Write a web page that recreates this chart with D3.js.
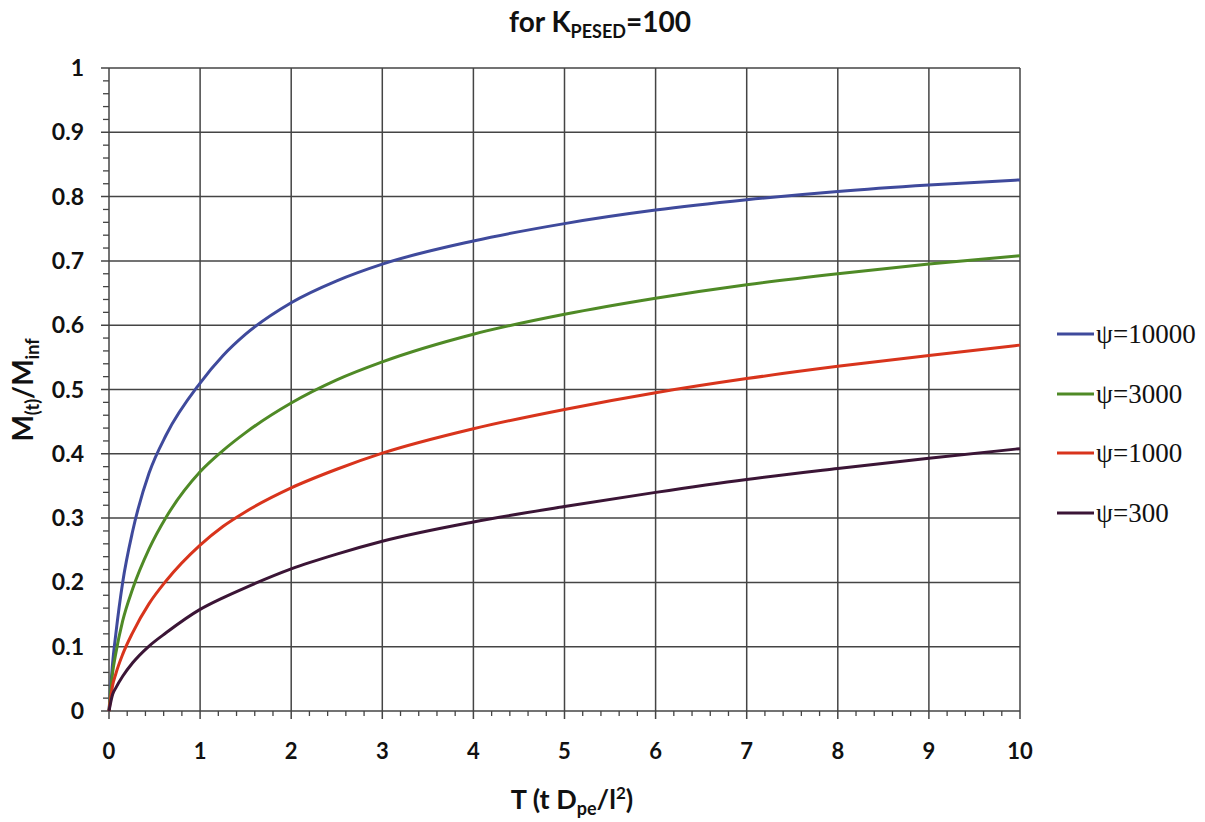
<!DOCTYPE html>
<html>
<head>
<meta charset="utf-8">
<script src="https://cdn.jsdelivr.net/npm/d3@7"></script>
<style>
  html, body { margin: 0; padding: 0; background: #ffffff; }
  svg { display: block; }
  .lab { font-family: Lato, "Open Sans", sans-serif; font-weight: 700; fill: #111; }
  .leg { font-family: "Liberation Serif", "DejaVu Serif", serif; fill: #111; }
</style>
</head>
<body>
<svg id="chart" width="1205" height="822"></svg>
<script>
// Dimensionless time T = t·Dpe/l²
const tValues = [0, 0.04, 0.075, 0.15, 0.26, 0.44, 0.63, 1, 1.25, 1.5, 2, 2.5, 3, 4, 5, 6, 7, 8, 9, 10];

// Fractional uptake M(t)/M(inf) for each psi
const psi10000 = [0, 0.075, 0.12, 0.2, 0.28, 0.37, 0.43, 0.51, 0.5525, 0.586, 0.635, 0.669, 0.695, 0.731, 0.758, 0.779, 0.795, 0.808, 0.818, 0.826];
const psi3000  = [0, 0.06, 0.09, 0.14, 0.19, 0.252, 0.302, 0.372, 0.405, 0.433, 0.479, 0.515, 0.543, 0.586, 0.617, 0.642, 0.663, 0.68, 0.695, 0.708];
const psi1000  = [0, 0.04, 0.058, 0.088, 0.122, 0.167, 0.203, 0.258, 0.287, 0.31, 0.347, 0.376, 0.401, 0.439, 0.469, 0.495, 0.517, 0.536, 0.553, 0.569];
const psi300   = [0, 0.026, 0.036, 0.054, 0.075, 0.101, 0.122, 0.158, 0.176, 0.192, 0.221, 0.244, 0.264, 0.294, 0.318, 0.34, 0.36, 0.377, 0.393, 0.408];

const seriesNames = ["ψ=10000", "ψ=3000", "ψ=1000", "ψ=300"];
const seriesValues = [psi10000, psi3000, psi1000, psi300];
const seriesColors = ["#3f4a9c", "#4f8a26", "#d8341c", "#3b1536"];

const xTicks = [0, 1, 2, 3, 4, 5, 6, 7, 8, 9, 10];
const yTicks = [0, 0.1, 0.2, 0.3, 0.4, 0.5, 0.6, 0.7, 0.8, 0.9, 1];
const yTickLabels = ["0", "0.1", "0.2", "0.3", "0.4", "0.5", "0.6", "0.7", "0.8", "0.9", "1"];

const svg = d3.select("#chart");
const plotLeft = 109, plotRight = 1020, plotTop = 68, plotBottom = 711;

const x = d3.scaleLinear().domain([0, 10]).range([plotLeft, plotRight]);
const y = d3.scaleLinear().domain([0, 1]).range([plotBottom, plotTop]);

const gridColor = "#444";

// grid lines
const grid = svg.append("g");
grid.selectAll("line.v").data(xTicks).join("line")
  .attr("x1", d => x(d)).attr("x2", d => x(d))
  .attr("y1", plotTop).attr("y2", plotBottom + 8)
  .attr("stroke", gridColor).attr("stroke-width", 1.5);
grid.selectAll("line.h").data(yTicks).join("line")
  .attr("x1", plotLeft - 8).attr("x2", plotRight)
  .attr("y1", d => y(d)).attr("y2", d => y(d))
  .attr("stroke", gridColor).attr("stroke-width", 1.5);

// minor ticks
const xMinor = d3.range(0, 10.001, 0.2).filter(v => Math.abs(v - Math.round(v)) > 1e-6);
const yMinor = d3.range(0, 1.0001, 0.02).filter(v => Math.abs(v * 10 - Math.round(v * 10)) > 1e-6);
grid.selectAll("line.xm").data(xMinor).join("line")
  .attr("x1", d => x(d)).attr("x2", d => x(d))
  .attr("y1", plotBottom).attr("y2", plotBottom + 5)
  .attr("stroke", gridColor).attr("stroke-width", 1.3);
grid.selectAll("line.ym").data(yMinor).join("line")
  .attr("x1", plotLeft - 6).attr("x2", plotLeft)
  .attr("y1", d => y(d)).attr("y2", d => y(d))
  .attr("stroke", gridColor).attr("stroke-width", 1.3);

// axis labels
svg.append("g").selectAll("text").data(xTicks).join("text")
  .attr("class", "lab")
  .attr("x", d => x(d)).attr("y", 759)
  .attr("text-anchor", "middle").attr("font-size", 22)
  .text(d => d);
svg.append("g").selectAll("text").data(yTicks).join("text")
  .attr("class", "lab")
  .attr("x", 84).attr("y", d => y(d) + 8)
  .attr("text-anchor", "end").attr("font-size", 23)
  .text((d, i) => yTickLabels[i]);

// curves
const line = d3.line().x((d, i) => x(tValues[i])).y(d => y(d)).curve(d3.curveMonotoneX);
svg.append("g").selectAll("path").data(seriesValues).join("path")
  .attr("d", d => line(d))
  .attr("fill", "none")
  .attr("stroke", (d, i) => seriesColors[i])
  .attr("stroke-width", 3)
  .attr("stroke-linejoin", "round");

// legend
const legY = [334, 394, 453, 513];
const leg = svg.append("g");
leg.selectAll("line").data(seriesNames).join("line")
  .attr("x1", 1057).attr("x2", 1094)
  .attr("y1", (d, i) => legY[i]).attr("y2", (d, i) => legY[i])
  .attr("stroke", (d, i) => seriesColors[i]).attr("stroke-width", 3);
leg.selectAll("text").data(seriesNames).join("text")
  .attr("class", "leg")
  .attr("x", 1096).attr("y", (d, i) => legY[i] + 9)
  .attr("font-size", 27)
  .text(d => d);

// title
const title = svg.append("text").attr("class", "lab")
  .attr("x", 600).attr("y", 32).attr("text-anchor", "middle").attr("font-size", 28);
title.append("tspan").text("for K");
title.append("tspan").attr("font-size", 18).attr("dy", 6).text("PESED");
title.append("tspan").attr("dy", -6).text("=100");

// x axis title
const xt = svg.append("text").attr("class", "lab")
  .attr("x", 572).attr("y", 809).attr("text-anchor", "middle").attr("font-size", 27);
xt.append("tspan").text("T (t D");
xt.append("tspan").attr("font-size", 18).attr("dy", 6).text("pe");
xt.append("tspan").attr("dy", -6).text("/l");
xt.append("tspan").attr("font-size", 17).attr("dy", -10).text("2");
xt.append("tspan").attr("dy", 10).text(")");

// y axis title
const yt = svg.append("text").attr("class", "lab")
  .attr("transform", "translate(33,390) rotate(-90)")
  .attr("text-anchor", "middle").attr("font-size", 28);
yt.append("tspan").text("M");
yt.append("tspan").attr("font-size", 18).attr("dy", 6).text("(t)");
yt.append("tspan").attr("dy", -6).text("/M");
yt.append("tspan").attr("font-size", 18).attr("dy", 6).text("inf");
</script>
</body>
</html>
